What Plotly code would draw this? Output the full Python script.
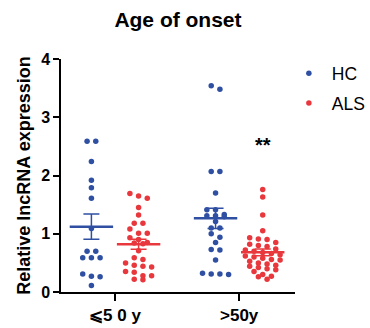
import plotly.graph_objects as go
import numpy as np

groups = ["⩽5 0 y", ">50y"]
series = ["HC", "ALS"]
colors = {"HC": "#2E4FA2", "ALS": "#E8383D"}

hc_le50 = [2.59, 2.59, 2.24, 1.92, 1.79, 1.61, 1.09, 0.70, 0.70, 0.59, 0.59, 0.59,
           0.31, 0.27, 0.26, 0.11]
als_le50 = [1.69, 1.65, 1.61, 1.45, 1.32, 1.18, 1.18, 1.08, 1.01, 1.01, 0.93, 0.90,
            0.85, 0.84, 0.83, 0.71, 0.59, 0.56, 0.50, 0.46, 0.44, 0.43, 0.35, 0.34,
            0.28, 0.28, 0.22, 0.21]
hc_gt50 = [3.54, 3.48, 2.07, 2.07, 1.70, 1.41, 1.41, 1.33, 1.31, 1.31, 1.29, 1.21,
           1.10, 1.10, 1.00, 0.94, 0.85, 0.73, 0.72, 0.55, 0.32, 0.31, 0.31, 0.30]
als_gt50 = [1.76, 1.63, 1.32, 1.05, 0.93, 0.91, 0.90, 0.85, 0.82, 0.80, 0.78, 0.74,
            0.72, 0.70, 0.68, 0.66, 0.64, 0.62, 0.60, 0.58, 0.56, 0.55, 0.53, 0.50,
            0.48, 0.46, 0.44, 0.42, 0.40, 0.38, 0.35, 0.30, 0.27, 0.26, 0.22]

data = {"HC": [hc_le50, hc_gt50], "ALS": [als_le50, als_gt50]}
offsets = {"HC": -0.19, "ALS": 0.19}
sig_text = "**"
sig_value = 2.52

def swarm(vals, center, dx=0.07, thr=0.085):
    order = sorted(range(len(vals)), key=lambda i: -vals[i])
    xs = [0.0] * len(vals)
    bins = []
    for i in order:
        if bins and bins[-1][0] - vals[i] < thr:
            bins[-1][1].append(i)
        else:
            bins.append([vals[i], [i]])
    for _, idx in bins:
        n = len(idx)
        for k, i in enumerate(idx):
            xs[i] = center + (k - (n - 1) / 2) * dx
    return xs

fig = go.Figure()
for s in series:
    xs, ys = [], []
    for gi, vals in enumerate(data[s]):
        xs += swarm(vals, gi + offsets[s])
        ys += vals
    fig.add_trace(go.Scatter(x=xs, y=ys, mode="markers", name=s, legendgroup=s,
                             marker=dict(color=colors[s], size=5.5)))
for s in series:
    for gi, vals in enumerate(data[s]):
        v = np.array(vals)
        m = v.mean()
        sem = v.std(ddof=1) / np.sqrt(len(v))
        fig.add_trace(go.Scatter(
            x=[gi + offsets[s]], y=[m], mode="markers", showlegend=False,
            marker=dict(symbol="line-ew", size=31, line=dict(color=colors[s], width=2.5)),
            error_y=dict(type="data", array=[sem], visible=True, color=colors[s],
                         thickness=1.5, width=8)))

fig.add_annotation(x=1 + offsets["ALS"], y=sig_value, text="<b>" + sig_text + "</b>",
                   showarrow=False, font=dict(size=20, color="black"))

font = "Arial, Liberation Sans, sans-serif"
fig.update_layout(
    width=370, height=328,
    margin=dict(l=61, r=75, t=59, b=36, autoexpand=False),
    paper_bgcolor="white", plot_bgcolor="white",
    font=dict(family=font, color="black"),
    title=dict(text="<b>Age of onset</b>", x=0.481, xanchor="center",
               y=1 - 20 / 328, yanchor="middle", yref="container",
               font=dict(size=21, color="black")),
    showlegend=True,
    legend=dict(x=0.961, xanchor="left", y=1.016, yanchor="top",
                font=dict(size=17.5, color="black"), tracegroupgap=4,
                traceorder="grouped",
                bgcolor="rgba(0,0,0,0)", itemwidth=36),
    xaxis=dict(range=[-0.435, 1.45], tickvals=[0, 1], automargin=False,
               ticktext=["<b>" + g + "</b>" for g in groups],
               showline=True, linecolor="black", linewidth=1.5,
               ticks="outside", ticklen=7, tickwidth=1.5, tickcolor="black",
               showgrid=False, zeroline=False, tickfont=dict(size=17)),
    yaxis=dict(range=[0, 4], tickvals=[0, 1, 2, 3, 4], automargin=False,
               ticktext=["<b>%d</b>" % t for t in [0, 1, 2, 3, 4]],
               showline=True, linecolor="black", linewidth=1.5,
               ticks="outside", ticklen=6, tickwidth=1.5, tickcolor="black",
               showgrid=False, zeroline=False, tickfont=dict(size=16),
               title=dict(text="<b>Relative lncRNA expression</b>", standoff=6,
                          font=dict(size=18))),
)
fig.write_html("out.html")
